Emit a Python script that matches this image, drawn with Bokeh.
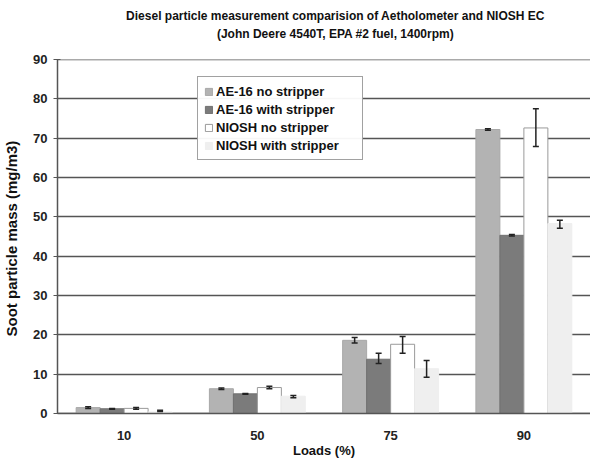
from bokeh.plotting import figure
from bokeh.layouts import column
from bokeh.models import ColumnDataSource, Whisker, Legend, LegendItem, FixedTicker, Label
from bokeh.transform import dodge
from bokeh.embed import file_html
from bokeh.resources import INLINE

loads = ["10", "50", "75", "90"]
series = ["AE-16 no stripper", "AE-16 with stripper", "NIOSH no stripper", "NIOSH with stripper"]
ae_no = [1.5, 6.3, 18.6, 72.2]
ae_with = [1.2, 5.0, 13.8, 45.3]
niosh_no = [1.3, 6.6, 17.6, 72.6]
niosh_with = [0.4, 4.4, 11.4, 48.3]
# error bar extents (lower, upper)
ae_no_lo = [1.3, 6.1, 17.9, 72.0]
ae_no_hi = [1.7, 6.5, 19.3, 72.4]
ae_with_lo = [1.1, 4.9, 12.7, 45.1]
ae_with_hi = [1.3, 5.1, 15.3, 45.5]
niosh_no_lo = [1.1, 6.3, 15.3, 67.9]
niosh_no_hi = [1.5, 6.9, 19.6, 77.5]
niosh_with_lo = [0.5, 4.0, 9.2, 47.1]
niosh_with_hi = [0.8, 4.6, 13.5, 49.1]
y_ticks = [0, 10, 20, 30, 40, 50, 60, 70, 80, 90]
title_lines = ["Diesel particle measurement comparision of Aetholometer and NIOSH EC",
               "(John Deere 4540T, EPA #2 fuel, 1400rpm)"]

values = [ae_no, ae_with, niosh_no, niosh_with]
lows = [ae_no_lo, ae_with_lo, niosh_no_lo, niosh_with_lo]
highs = [ae_no_hi, ae_with_hi, niosh_no_hi, niosh_with_hi]
fills = ["#b3b3b3", "#7b7b7b", "#ffffff", "#efefef"]
lines = ["#a8a8a8", "#707070", "#9a9a9a", "#efefef"]
offsets = [-0.27, -0.09, 0.09, 0.27]

# ---- title strip ----
tf = figure(width=590, height=51, output_backend="svg", toolbar_location=None,
            x_range=(0, 1), y_range=(0, 1), min_border=0, x_axis_location=None, y_axis_location=None)
tf.outline_line_color = None
tf.xgrid.visible = False
tf.ygrid.visible = False
for txt, yy in zip(title_lines, [36, 18]):
    tf.add_layout(Label(x=278, y=yy, x_units="screen", y_units="screen", text=txt,
                        text_font="Liberation Sans", text_font_size="12px", text_font_style="bold",
                        text_color="#111111", text_align="center", text_baseline="middle"))

# ---- chart ----
p = figure(x_range=loads, y_range=(0, 90), width=590, height=410,
           output_backend="svg", toolbar_location=None,
           min_border_left=55, min_border_right=0, min_border_bottom=48, min_border_top=8)

# horizontal gridlines
p.hspan(y=y_ticks, line_color="#555555", line_width=1.6)

items = []
for i in range(4):
    src = ColumnDataSource(dict(x=loads, y=values[i], lo=lows[i], hi=highs[i]))
    r = p.vbar(x=dodge("x", offsets[i], range=p.x_range), top="y", width=0.18, source=src,
               fill_color=fills[i], line_color=lines[i], line_width=1)
    w = Whisker(base=dodge("x", offsets[i], range=p.x_range), lower="lo", upper="hi", source=src,
                line_color="#222222", line_width=1.5, level="overlay")
    for h in (w.upper_head, w.lower_head):
        h.size = 6
        h.line_color = "#222222"
        h.line_width = 1.5
    p.add_layout(w)
    items.append(LegendItem(label=series[i], renderers=[r]))

legend = Legend(items=items, location=(140, 253), border_line_color="#444444", border_line_width=1.5,
                label_text_font="Liberation Sans", label_text_font_size="13px", label_text_font_style="bold",
                label_text_color="#111111",
                glyph_width=9, glyph_height=9, label_height=16, spacing=2, padding=6,
                margin=0, label_standoff=3, label_width=140, background_fill_color="#ffffff")
p.add_layout(legend, "center")

p.yaxis.ticker = FixedTicker(ticks=y_ticks)
p.ygrid.grid_line_color = None
p.xgrid.grid_line_color = None
p.outline_line_color = None

for ax in (p.xaxis, p.yaxis):
    ax.axis_line_color = "#555555"
    ax.axis_line_width = 1.5
    ax.major_label_text_font = "Liberation Sans"
    ax.major_label_text_font_style = "bold"
    ax.major_label_text_font_size = "13px"
    ax.major_label_text_color = "#222222"
    ax.axis_label_text_font = "Liberation Sans"
    ax.axis_label_text_font_style = "bold"
    ax.axis_label_text_color = "#111111"
    ax.minor_tick_line_color = None

p.yaxis.axis_label = "Soot particle  mass (mg/m3)"
p.yaxis.axis_label_text_font_size = "15px"
p.yaxis.major_tick_line_color = "#555555"
p.yaxis.major_tick_in = 3
p.yaxis.major_tick_out = 4
p.yaxis.major_label_standoff = 6
p.yaxis.axis_label_standoff = 10
p.xaxis.major_tick_line_color = None
p.xaxis.major_tick_in = 0
p.xaxis.major_tick_out = 0
p.xaxis.major_label_standoff = 17
p.xaxis.axis_label = "Loads (%)"
p.xaxis.axis_label_text_font_size = "13px"
p.xaxis.axis_label_standoff = 0

layout = column(tf, p, spacing=0)
open("out.html", "w").write(file_html(layout, INLINE))
